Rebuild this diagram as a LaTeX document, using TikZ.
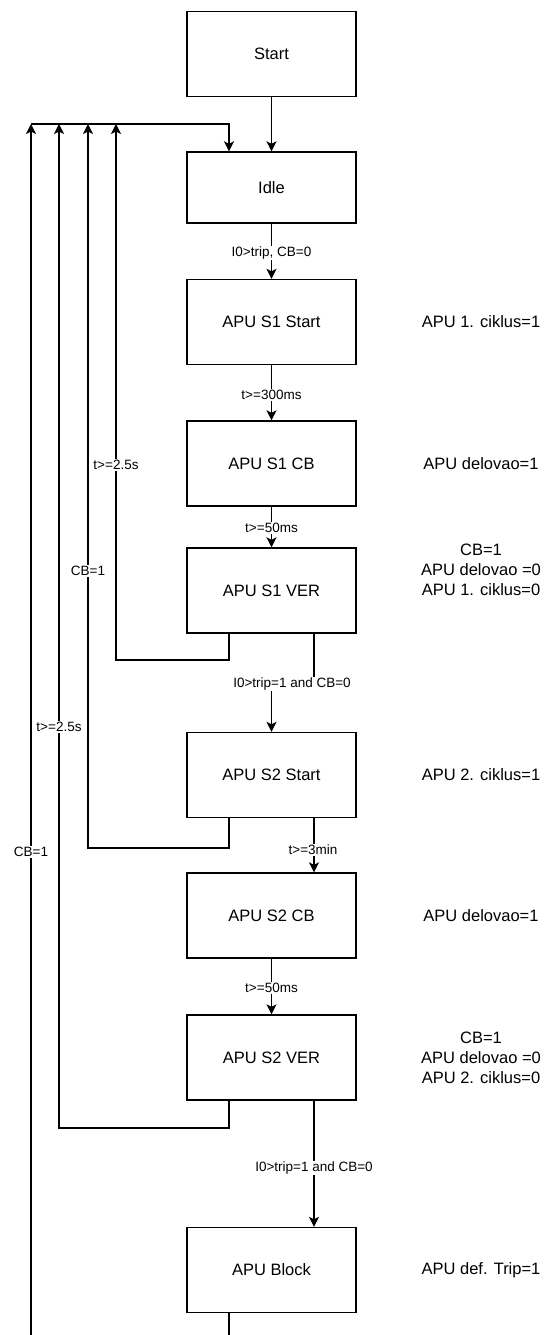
\documentclass[tikz,border=0pt]{standalone}
\usepackage{fontspec}
\setmainfont{Liberation Sans}
\usetikzlibrary{arrows.meta}

\begin{document}
\begin{tikzpicture}[x=1pt, y=-1pt, line width=1.4pt,
    every node/.style={font=\fontsize{16.5}{20}\selectfont},
    state/.style={draw, rectangle, minimum width=169pt, minimum height=85pt, inner sep=0pt},
    cond/.style={fill=white, inner sep=1pt, font=\fontsize{13.5}{16}\selectfont},
    note/.style={align=center, inner sep=0pt},
    arr/.style={-{Stealth[length=10pt, width=10pt, inset=2.5pt]}}]
        % APU state machine: states in the middle, outputs on the right, returns on the left
        \useasboundingbox (0,0) rectangle (546,1335);
        \node[state] (start) at (271.5,54) {Start};
        \node[state, minimum height=71pt] (idle) at (271.5,187.5) {Idle};
        \node[state] (s1start) at (271.5,322) {APU S1 Start};
        \node[state] (s1cb) at (271.5,463.5) {APU S1 CB};
        \node[state] (s1ver) at (271.5,590.5) {APU S1 VER};
        \node[state] (s2start) at (271.5,775) {APU S2 Start};
        \node[state] (s2cb) at (271.5,915.5) {APU S2 CB};
        \node[state] (s2ver) at (271.5,1057.5) {APU S2 VER};
        \node[state] (block) at (271.5,1270) {APU Block};
        % return bus
        \coordinate (b1) at (31,124);
        \coordinate (b2) at (59,124);
        \coordinate (b3) at (88,124);
        \coordinate (b4) at (116,124);
        \coordinate (b5) at (229,124);
        \coordinate (k1) at (116,660);
        \coordinate (k2) at (88,848);
        \coordinate (k3) at (59,1128);
        \coordinate (e1) at (31,1335);
        \coordinate (e2) at (229,1335);
        \coordinate (j1) at (314,684);
        \coordinate (j2) at (271.5,684);
        \draw[arr] (start) -- (idle);
        \draw[arr] (b1) -- (b5) -- (b5 |- idle.north);
        \draw[arr] (idle) -- (s1start);
        \draw[arr] (s1start) -- (s1cb);
        \draw[arr] (s1cb) -- (s1ver);
        \draw[arr] ([xshift=-42.5pt]s1ver.south) |- (k1) -- (b4);
        \draw[arr] ([xshift=42.5pt]s1ver.south) -- (j1) -- (j2) -- (s2start.north);
        \draw[arr] ([xshift=-42.5pt]s2start.south) |- (k2) -- (b3);
        \draw[arr] ([xshift=42.5pt]s2start.south) -- ([xshift=42.5pt]s2cb.north);
        \draw[arr] (s2cb) -- (s2ver);
        \draw[arr] ([xshift=-42.5pt]s2ver.south) |- (k3) -- (b2);
        \draw[arr] ([xshift=42.5pt]s2ver.south) -- ([xshift=42.5pt]block.north);
        \draw ([xshift=-42.5pt]block.south) -- (e2);
        \draw[arr] (e1) -- (b1);
        % transition conditions
        \node[cond] (c1) at (271.5,253) {I0>trip, CB=0};
        \node[cond] (c2) at (271.5,395) {t>=300ms};
        \node[cond] (c3) at (271.5,528) {t>=50ms};
        \node[cond] (c4) at (116,465) {t>=2.5s};
        \node[cond] (c5) at (88,571) {CB=1};
        \node[cond] (c6) at (292,684) {I0>trip=1 and CB=0};
        \node[cond] (c7) at (59,727) {t>=2.5s};
        \node[cond] (c8) at (313,850) {t>=3min};
        \node[cond] (c9) at (31,852) {CB=1};
        \node[cond] (c10) at (271.5,988) {t>=50ms};
        \node[cond] (c11) at (314,1168) {I0>trip=1 and CB=0};
        % outputs
        \node[note] (n1) at (481,322) {APU 1. ciklus=1};
        \node[note] (n2) at (481,463.5) {APU delovao=1};
        \node[note] (n3) at (481,570) {CB=1\\APU delovao =0\\APU 1. ciklus=0};
        \node[note] (n4) at (481,775) {APU 2. ciklus=1};
        \node[note] (n5) at (481,915.5) {APU delovao=1};
        \node[note] (n6) at (481,1057.5) {CB=1\\APU delovao =0\\APU 2. ciklus=0};
        \node[note] (n7) at (481,1270) {APU def. Trip=1};
    \end{tikzpicture}
\end{document}
